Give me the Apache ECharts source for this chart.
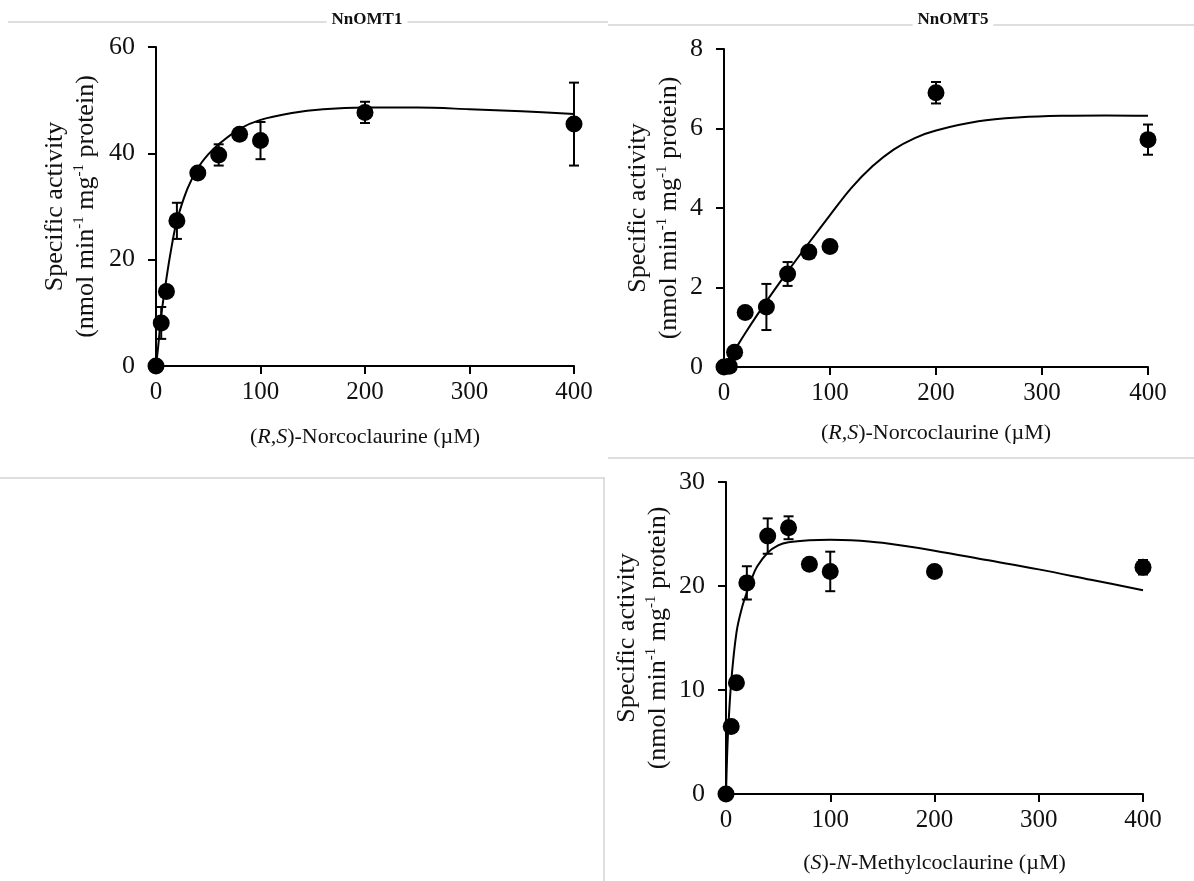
<!DOCTYPE html>
<html>
<head>
<meta charset="utf-8">
<script src="https://cdn.jsdelivr.net/npm/echarts@6/dist/echarts.min.js"></script>
<style>
  html, body { margin: 0; padding: 0; background: #fff; }
  #chart { width: 1194px; height: 881px; }
</style>
</head>
<body>
<div id="chart"></div>
<script>
// ---------- data ----------
const titles = ['NnOMT1', 'NnOMT5'];
const conc = [0, 5, 10, 20, 40, 60, 80, 100, 200, 400];

// NnOMT1 with (R,S)-norcoclaurine
const omt1Mean = [0, 8.1, 14.0, 27.3, 36.3, 39.7, 43.6, 42.4, 47.7, 45.5];
const omt1Err  = [0, 3.0, 0.6, 3.4, 0.6, 2.0, 0.8, 3.5, 2.0, 7.8];
const omt1FitX = [0, 2, 5, 10, 15, 20, 30, 40, 50, 60, 80, 100, 130, 160, 200, 250, 300, 350, 400];
const omt1FitY = [0, 3.5, 9.5, 16.5, 22.5, 27.3, 33.3, 37.2, 39.8, 41.7, 44.6, 46.3, 47.6, 48.3, 48.6, 48.6, 48.3, 47.9, 47.4];

// NnOMT5 with (R,S)-norcoclaurine
const omt5Mean = [0, 0.02, 0.37, 1.37, 1.51, 2.34, 2.89, 3.03, 6.9, 5.72];
const omt5Err  = [0, 0, 0, 0.1, 0.58, 0.3, 0.05, 0.05, 0.27, 0.38];
const omt5FitX = [0, 10, 20, 40, 60, 80, 100, 120, 140, 160, 180, 200, 240, 280, 320, 360, 400];
const omt5FitY = [0, 0.42, 0.85, 1.65, 2.4, 3.12, 3.82, 4.5, 5.05, 5.47, 5.76, 5.95, 6.18, 6.28, 6.32, 6.33, 6.32];

// NnOMT5 with (S)-N-methylcoclaurine
const nmcMean = [0, 6.5, 10.7, 20.3, 24.8, 25.6, 22.1, 21.4, 21.4, 21.8];
const nmcErr  = [0, 0.3, 0.3, 1.6, 1.7, 1.1, 0.3, 1.9, 0.3, 0.7];
const nmcFitX = [0, 1, 2, 5, 10, 15, 20, 25, 30, 40, 50, 60, 80, 100, 120, 150, 200, 250, 300, 350, 400];
const nmcFitY = [0, 3.5, 6.0, 10.8, 15.5, 17.8, 19.4, 20.8, 21.9, 23.2, 23.9, 24.2, 24.4, 24.45, 24.4, 24.15, 23.4, 22.5, 21.6, 20.6, 19.6];

const xTicks = [0, 100, 200, 300, 400];
const yMax = [60, 8, 30];
const yInterval = [20, 2, 10];

// ---------- styling helpers ----------
const FONT = '"Liberation Serif", "Times New Roman", serif';
const INK = '#111';

const yName = '{a|Specific activity}\n{a|(nmol min}{s|-1}{a| mg}{s|-1}{a| protein)}';
const yRich = {
  a: { fontSize: 26, fontFamily: FONT, color: INK, lineHeight: 31 },
  s: { fontSize: 15, fontFamily: FONT, color: INK, lineHeight: 31, verticalAlign: 'top', padding: [1, 0, 0, 0] }
};
const xRich = {
  a: { fontSize: 22, fontFamily: FONT, color: INK },
  i: { fontSize: 22, fontFamily: FONT, color: INK, fontStyle: 'italic' }
};
const xNames = [
  '{a|(}{i|R,S}{a|)-Norcoclaurine (µM)}',
  '{a|(}{i|R,S}{a|)-Norcoclaurine (µM)}',
  '{a|(}{i|S}{a|)-}{i|N}{a|-Methylcoclaurine (µM)}'
];

function xAxisCfg(i, gap) {
  return {
    gridIndex: i, type: 'value', min: 0, max: 400, interval: 100,
    axisLine: { onZero: false, lineStyle: { color: '#000', width: 2 } },
    axisTick: { length: 8, lineStyle: { color: '#000', width: 2 } },
    splitLine: { show: false },
    axisLabel: { fontSize: 25, fontFamily: FONT, color: INK, margin: 14,
      customValues: xTicks },
    name: xNames[i], nameLocation: 'middle', nameGap: gap,
    nameTextStyle: { rich: xRich }
  };
}
function yAxisCfg(i, gap) {
  return {
    gridIndex: i, type: 'value', min: 0, max: yMax[i], interval: yInterval[i],
    axisLine: { show: true, onZero: false, lineStyle: { color: '#000', width: 2 } },
    axisTick: { show: true, length: 8, lineStyle: { color: '#000', width: 2 } },
    splitLine: { show: false },
    axisLabel: { fontSize: 26, fontFamily: FONT, color: INK, margin: 21 },
    name: yName, nameLocation: 'middle', nameRotate: 90, nameGap: gap,
    nameTextStyle: { rich: yRich }
  };
}

function errData(means, errs) {
  return conc.map((c, k) => [c, means[k], errs[k]]).filter(d => d[2] > 0);
}
function errorSeries(i, means, errs) {
  return {
    type: 'custom', xAxisIndex: i, yAxisIndex: i, z: 3,
    data: errData(means, errs),
    renderItem: function (params, api) {
      const x = api.value(0), y = api.value(1), e = api.value(2);
      const top = api.coord([x, y + e]);
      const bot = api.coord([x, y - e]);
      const hw = 5;
      const st = { stroke: '#000', lineWidth: 2 };
      return {
        type: 'group',
        children: [
          { type: 'line', shape: { x1: top[0], y1: top[1], x2: bot[0], y2: bot[1] }, style: st },
          { type: 'line', shape: { x1: top[0] - hw, y1: top[1], x2: top[0] + hw, y2: top[1] }, style: st },
          { type: 'line', shape: { x1: bot[0] - hw, y1: bot[1], x2: bot[0] + hw, y2: bot[1] }, style: st }
        ]
      };
    }
  };
}
function fitSeries(i, xs, ys) {
  return {
    type: 'line', xAxisIndex: i, yAxisIndex: i, z: 2,
    data: xs.map((x, k) => [x, ys[k]]),
    smooth: 0.35, showSymbol: false, symbol: 'none',
    lineStyle: { color: '#000', width: 2 }
  };
}
function pointSeries(i, means) {
  return {
    type: 'scatter', xAxisIndex: i, yAxisIndex: i, z: 4,
    data: conc.map((c, k) => [c, means[k]]),
    symbol: 'circle', symbolSize: 17,
    itemStyle: { color: '#000', opacity: 1 }
  };
}

const frame = { stroke: '#d4d4d4', lineWidth: 1.5 };

const option = {
  backgroundColor: '#fff',
  animation: false,
  title: [
    { text: titles[0], left: 362, top: 11, textAlign: 'center', padding: [0, 5],
      backgroundColor: '#fff',
      textStyle: { fontFamily: FONT, fontWeight: 'bold', fontSize: 17, color: INK } },
    { text: titles[1], left: 948, top: 11, textAlign: 'center', padding: [0, 5],
      backgroundColor: '#fff',
      textStyle: { fontFamily: FONT, fontWeight: 'bold', fontSize: 17, color: INK } }
  ],
  graphic: [
    { type: 'line', z: -1, shape: { x1: 8, y1: 22, x2: 608, y2: 22 }, style: frame },
    { type: 'line', z: -1, shape: { x1: 608, y1: 25, x2: 1194, y2: 25 }, style: frame },
    { type: 'line', z: -1, shape: { x1: 608, y1: 458, x2: 1194, y2: 458 }, style: frame },
    { type: 'line', z: -1, shape: { x1: 0, y1: 478, x2: 605, y2: 478 }, style: frame },
    { type: 'line', z: -1, shape: { x1: 604, y1: 478, x2: 604, y2: 881 }, style: frame }
  ],
  grid: [
    { left: 156, top: 47, width: 418, height: 319 },
    { left: 724, top: 49, width: 424, height: 318 },
    { left: 726, top: 482, width: 417, height: 312 }
  ],
  xAxis: [xAxisCfg(0, 60), xAxisCfg(1, 55), xAxisCfg(2, 58)],
  yAxis: [yAxisCfg(0, 54), yAxisCfg(1, 39), yAxisCfg(2, 52)],
  series: [
    fitSeries(0, omt1FitX, omt1FitY), errorSeries(0, omt1Mean, omt1Err), pointSeries(0, omt1Mean),
    fitSeries(1, omt5FitX, omt5FitY), errorSeries(1, omt5Mean, omt5Err), pointSeries(1, omt5Mean),
    fitSeries(2, nmcFitX, nmcFitY), errorSeries(2, nmcMean, nmcErr), pointSeries(2, nmcMean)
  ]
};

const chart = echarts.init(document.getElementById('chart'), null, { renderer: 'canvas' });
chart.setOption(option);
</script>
</body>
</html>
